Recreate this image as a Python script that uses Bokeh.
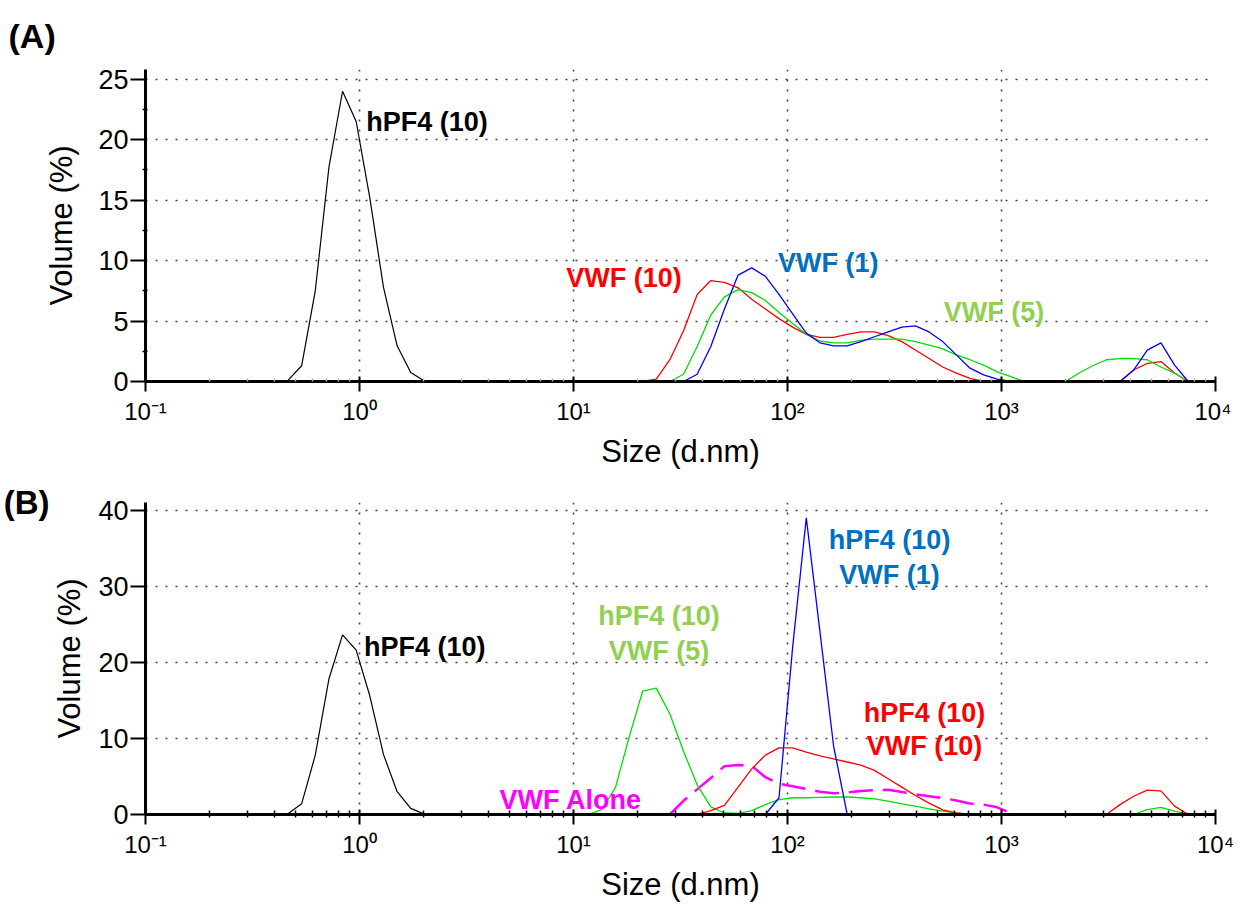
from bokeh.plotting import figure
from bokeh.layouts import column
from bokeh.models import FixedTicker, Range1d, LinearAxis
from bokeh.core.properties import value
from bokeh.embed import file_html
from bokeh.resources import INLINE

# ---------------- data (size in d.nm, volume in %) ----------------
# Panel A
a_hpf4_x = [0.4632, 0.5365, 0.6213, 0.7195, 0.8332, 0.9649, 1.117, 1.294, 1.499, 1.736, 2.010]
a_hpf4_y = [0.1, 1.3, 7.5, 17.7, 24.0, 21.5, 15.2, 7.8, 2.95, 0.75, 0.05]

a_vwf10_x = [21.04, 24.36, 28.21, 32.67, 37.84, 43.82, 50.75, 58.77, 68.06, 78.82, 91.28, 105.7,
             122.4, 141.8, 164.2, 190.1, 220.2, 255.0, 295.3, 342.0, 396.1, 458.7, 531.2, 615.1,
             712.4, 825.0, 3580, 4145, 4801, 5560, 6439, 7456]
a_vwf10_y = [0.0, 0.2, 1.8, 4.2, 7.2, 8.35, 8.2, 7.75, 6.8, 6.0, 5.2, 4.5,
             3.9, 3.65, 3.65, 3.9, 4.1, 4.1, 3.8, 3.3, 2.6, 1.9, 1.2, 0.7,
             0.25, 0.0, 0.0, 0.95, 1.5, 1.65, 0.7, 0.0]

a_vwf1_x = [32.67, 37.84, 43.82, 50.75, 58.77, 68.06, 78.82, 91.28, 105.7, 122.4, 141.8, 164.2,
            190.1, 220.2, 255.0, 295.3, 342.0, 396.1, 458.7, 531.2, 615.1, 712.4, 825.0, 955.4,
            1106, 3580, 4145, 4801, 5560, 6439, 7456]
a_vwf1_y = [0.0, 0.6, 2.9, 6.0, 8.8, 9.4, 8.7, 7.2, 5.6, 4.0, 3.2, 2.95,
            2.95, 3.3, 3.7, 4.1, 4.5, 4.6, 4.1, 3.3, 2.2, 1.1, 0.55, 0.2,
            0.0, 0.0, 0.95, 2.6, 3.2, 1.35, 0.0]

a_vwf5_x = [28.21, 32.67, 37.84, 43.82, 50.75, 58.77, 68.06, 78.82, 91.28, 105.7, 122.4, 141.8,
            164.2, 190.1, 220.2, 255.0, 295.3, 342.0, 396.1, 458.7, 531.2, 615.1, 712.4, 825.0,
            955.4, 1106, 1281, 1990, 2305, 2669, 3091, 3580, 4145, 4801, 5560, 6439, 7456]
a_vwf5_y = [0.0, 0.6, 2.9, 5.5, 7.0, 7.6, 7.35, 6.7, 5.7, 4.8, 3.9, 3.35,
            3.2, 3.2, 3.4, 3.5, 3.5, 3.5, 3.3, 3.0, 2.7, 2.2, 1.8, 1.35,
            0.8, 0.4, 0.0, 0.0, 0.7, 1.3, 1.8, 1.9, 1.9, 1.8, 1.2, 0.7, 0.0]

# Panel B
b_hpf4_x = [0.4632, 0.5365, 0.6213, 0.7195, 0.8332, 0.9649, 1.117, 1.294, 1.499, 1.736, 2.010]
b_hpf4_y = [0.1, 1.4, 7.8, 17.8, 23.6, 21.6, 15.6, 7.9, 3.0, 0.8, 0.05]

b_mix5_x = [11.70, 13.54, 15.69, 18.17, 21.04, 24.36, 28.21, 32.67, 37.84, 43.82, 50.75, 58.77,
            68.06, 78.82, 91.28, 105.7, 122.4, 141.8, 164.2, 190.1, 220.2, 255.0, 295.3, 342.0,
            396.1, 458.7, 531.2, 615.1, 712.4, 4145, 4801, 5560, 6439, 7456]
b_mix5_y = [0.0, 0.65, 3.5, 10.1, 16.2, 16.6, 13.2, 8.3, 3.9, 1.0, 0.2, 0.15,
            0.5, 1.3, 1.95, 2.2, 2.2, 2.25, 2.3, 2.3, 2.2, 2.05, 1.75, 1.4,
            1.1, 0.75, 0.45, 0.2, 0.0, 0.0, 0.65, 0.95, 0.45, 0.0]

b_mix1_x = [78.82, 91.28, 105.7, 122.4, 141.8, 164.2, 190.1]
b_mix1_y = [0.0, 2.2, 22.0, 39.0, 24.0, 9.0, 0.0]

b_mix10_x = [37.84, 43.82, 50.75, 58.77, 68.06, 78.82, 91.28, 105.7, 122.4, 141.8, 164.2, 190.1,
             220.2, 255.0, 295.3, 342.0, 396.1, 458.7, 531.2, 615.1, 712.4, 3091, 3580, 4145,
             4801, 5560, 6439, 7456]
b_mix10_y = [0.0, 0.5, 1.2, 3.6, 6.0, 7.8, 8.75, 8.75, 8.2, 7.7, 7.3, 6.9,
             6.5, 5.8, 4.7, 3.6, 2.5, 1.5, 0.6, 0.2, 0.0, 0.0, 1.3, 2.4,
             3.2, 3.1, 1.1, 0.0]

b_alone_x = [28.21, 32.67, 37.84, 43.82, 50.75, 58.77, 68.06, 78.82, 91.28, 105.7, 122.4, 141.8,
             164.2, 190.1, 220.2, 255.0, 295.3, 342.0, 396.1, 458.7, 531.2, 615.1, 712.4, 825.0,
             955.4, 1106]
b_alone_y = [0.0, 1.8, 3.3, 4.8, 6.35, 6.5, 6.4, 4.9, 4.05, 3.7, 3.35, 3.0,
             2.8, 2.9, 3.1, 3.2, 3.25, 2.95, 2.65, 2.4, 2.15, 1.85, 1.45, 1.3,
             0.95, 0.15]

x_major = [0.1, 1, 10, 100, 1000, 10000]
x_labels = ["10\u207b\u00b9", "10\u2070", "10\u00b9", "10\u00b2", "10\u00b3", "10\u2074"]

FONT = "Liberation Sans"
RED = "#ff0000"
GREEN_LINE = "#00e000"
BLUE_LINE = "#0000ff"
GREEN_TXT = "#92d050"
BLUE_TXT = "#0070c0"
MAGENTA = "#ff00ff"

x_minor = [m * d for d in (0.1, 1, 10, 100, 1000) for m in range(2, 10)]


def make_fig(ymax, yticks, yminor, fh, bt, bb, minor_col, minor_in, minor_out, lab_standoff):
    p = figure(x_axis_type="log", x_range=Range1d(0.1, 10000), y_range=Range1d(0, ymax),
               frame_width=1070, frame_height=fh,
               min_border_left=141, min_border_right=20, min_border_top=bt, min_border_bottom=bb,
               output_backend="svg", toolbar_location=None)
    p.outline_line_color = None
    p.background_fill_color = "white"
    p.border_fill_color = "white"

    p.xaxis.ticker = FixedTicker(ticks=x_major, minor_ticks=x_minor)
    p.xaxis.major_label_overrides = dict(zip(x_major, x_labels))
    p.yaxis.ticker = FixedTicker(ticks=yticks, minor_ticks=yminor)

    for ax in (p.xaxis[0], p.yaxis[0]):
        ax.axis_line_width = 3
        ax.axis_line_color = "black"
        ax.major_tick_line_width = 2
        ax.major_tick_line_color = "black"
        ax.minor_tick_line_width = 1.5
        ax.major_label_text_font = FONT
        ax.major_label_text_color = "black"
        ax.axis_label_text_font = FONT
        ax.axis_label_text_font_style = "normal"
        ax.axis_label_text_font_size = "31px"
        ax.axis_label_text_color = "black"

    xa = p.xaxis[0]
    xa.axis_label = "Size (d.nm)"
    xa.major_tick_in = 5
    xa.major_tick_out = 10
    xa.minor_tick_in = minor_in
    xa.minor_tick_out = minor_out
    xa.minor_tick_line_color = minor_col
    xa.major_label_text_font_size = "24px"
    xa.major_label_standoff = 6
    xa.axis_label_standoff = 6

    ya = p.yaxis[0]
    ya.axis_label = "Volume (%)"
    ya.major_tick_in = 0
    ya.major_tick_out = 15
    ya.minor_tick_in = 2
    ya.minor_tick_out = 3
    ya.minor_tick_line_color = "black"
    ya.major_label_text_font_size = "27px"
    ya.major_label_standoff = 2
    ya.axis_label_standoff = lab_standoff

    p.xgrid.ticker = FixedTicker(ticks=x_major[1:])
    p.ygrid.ticker = FixedTicker(ticks=yticks[1:])
    for g in (p.xgrid[0], p.ygrid[0]):
        g.grid_line_color = "#444444"
        g.grid_line_width = 1.6
        g.grid_line_dash = "2 8"
    return p


def add_text(p, x, y, text, color, align="left"):
    p.text(x=x, y=y, text=text, text_color=color, text_font=value(FONT),
           text_font_style="bold", text_font_size="27px",
           text_align=align, text_baseline="middle")


# ---------------- Panel A ----------------
pa = make_fig(25.8, [0, 5, 10, 15, 20, 25], [2.5, 7.5, 12.5, 17.5, 22.5],
              312, 64, 94, "#b0b0b0", 3, 0, 16)
pa.title.text = "(A)"
pa.title.align = "left"
pa.title.offset = -137
pa.title.standoff = 29
pa.title.text_line_height = 1.0
pa.title.text_font = FONT
pa.title.text_font_style = "bold"
pa.title.text_font_size = "34px"
pa.title.text_color = "black"

pa.line(a_hpf4_x, a_hpf4_y, line_color="black", line_width=1.2)
pa.line(a_vwf10_x, a_vwf10_y, line_color=RED, line_width=1.3)
pa.line(a_vwf5_x, a_vwf5_y, line_color=GREEN_LINE, line_width=1.3)
pa.line(a_vwf1_x, a_vwf1_y, line_color=BLUE_LINE, line_width=1.3)

add_text(pa, [1.076], [21.5], ["hPF4 (10)"], "black")
add_text(pa, [9.24], [8.52], ["VWF (10)"], RED)
add_text(pa, [90.2], [9.76], ["VWF (1)"], BLUE_TXT)
add_text(pa, [537], [5.71], ["VWF (5)"], GREEN_TXT)

# ---------------- Panel B ----------------
pb = make_fig(41.0, [0, 10, 20, 30, 40], [], 312, 27, 80, "black", 4, 3, 8)
# panel tag "(B)" carried by an extra, line-less axis on the left
tag_axis = LinearAxis(ticker=FixedTicker(ticks=[40.95]),
                      major_label_overrides={40.95: "(B)"},
                      axis_line_color=None, major_tick_line_color=None,
                      minor_tick_line_color=None, major_tick_out=0, major_tick_in=0,
                      minor_tick_out=0, minor_tick_in=0, major_label_standoff=0,
                      major_label_text_font=FONT, major_label_text_font_style="bold",
                      major_label_text_font_size="33px", major_label_text_color="black")
pb.add_layout(tag_axis, "left")

pb.line(b_hpf4_x, b_hpf4_y, line_color="black", line_width=1.2)
pb.line(b_alone_x, b_alone_y, line_color=MAGENTA, line_width=2.5, line_dash="24 10")
pb.line(b_mix5_x, b_mix5_y, line_color=GREEN_LINE, line_width=1.3)
pb.line(b_mix10_x, b_mix10_y, line_color=RED, line_width=1.3)
pb.line(b_mix1_x, b_mix1_y, line_color=BLUE_LINE, line_width=1.3)

add_text(pb, [1.05], [22.0], ["hPF4 (10)"], "black")
add_text(pb, [25.1, 25.1], [26.05, 21.45], ["hPF4 (10)", "VWF (5)"], GREEN_TXT, "center")
add_text(pb, [300, 300], [36.05, 31.45], ["hPF4 (10)", "VWF (1)"], BLUE_TXT, "center")
add_text(pb, [437, 437], [13.4, 8.95], ["hPF4 (10)", "VWF (10)"], RED, "center")
add_text(pb, [4.51], [1.84], ["VWF Alone"], MAGENTA)

layout = column(pa, pb, spacing=0)
open("out.html", "w").write(file_html(layout, INLINE))
